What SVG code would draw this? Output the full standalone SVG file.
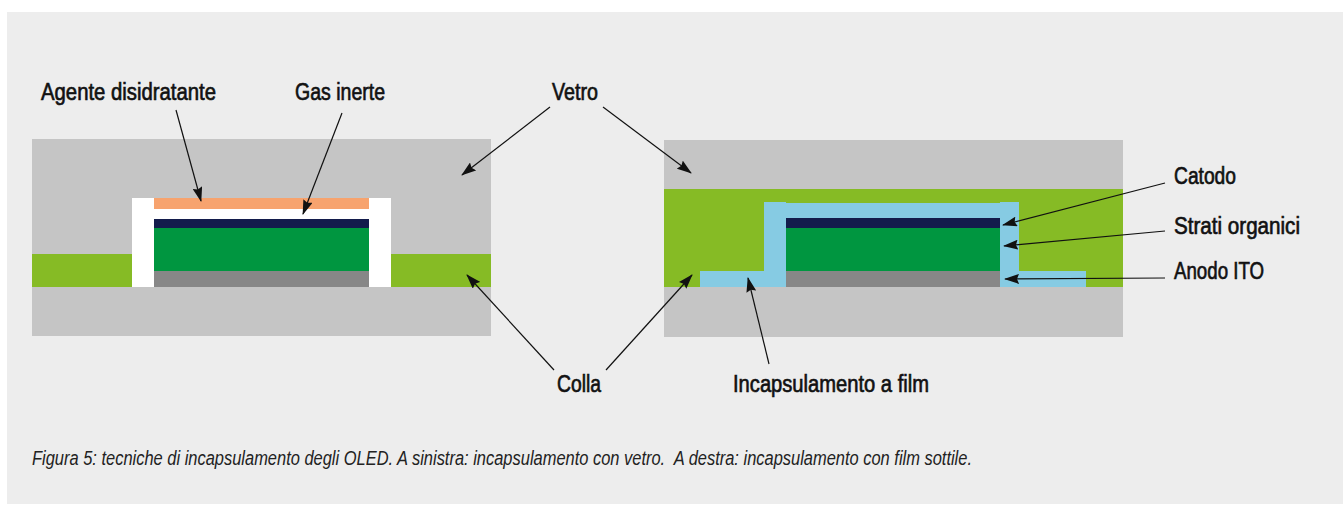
<svg xmlns="http://www.w3.org/2000/svg" width="1343" height="505" viewBox="0 0 1343 505">
<style>
.bg{fill:#ededed}.glass{fill:#c5c5c5}.glue{fill:#86bb25}.white{fill:#fff}.desi{fill:#f7a36e}.cath{fill:#131c4c}.org{fill:#009640}.ito{fill:#878787}.film{fill:#86cbe3}
.lab{font-family:"Liberation Sans",Arial,sans-serif;font-size:23px;fill:#111;stroke:#111;stroke-width:.65px}
.cap{font-family:"Liberation Sans",Arial,sans-serif;font-size:20px;font-style:italic;fill:#222;white-space:pre}
.con{stroke:#111;stroke-width:1.2;fill:none;marker-end:url(#arr)}
</style>
<defs><marker id="arr" markerUnits="userSpaceOnUse" viewBox="0 0 15 10" markerWidth="15" markerHeight="10" refX="14" refY="5" orient="auto"><path d="M0 0L15 5L0 10L2 5Z" fill="#111"/></marker></defs>
<rect class="bg" x="7" y="12" width="1336" height="492"/>
<g id="left-assembly">
<rect class="glass" x="32" y="139" width="459" height="197"/>
<rect class="glue" x="32" y="254" width="459" height="33"/>
<rect class="white" x="132" y="198" width="259" height="89"/>
<rect class="desi" x="154" y="198" width="215" height="11"/>
<rect class="cath" x="154" y="219" width="215" height="9"/>
<rect class="org" x="154" y="228" width="215" height="43"/>
<rect class="ito" x="154" y="271" width="215" height="16"/>
</g>
<g id="right-assembly">
<rect class="glass" x="664" y="140" width="459" height="197"/>
<rect class="glue" x="664" y="189" width="459" height="98"/>
<path class="film" d="M700 271H764V202H786V203H1000V202H1019V271H1086V287H700Z"/>
<rect class="cath" x="786" y="218" width="214" height="10"/>
<rect class="org" x="786" y="228" width="214" height="43"/>
<rect class="ito" x="786" y="271" width="214" height="16"/>
</g>
<g id="connectors">
<line class="con" x1="176" y1="110" x2="201" y2="201"/>
<line class="con" x1="342" y1="113" x2="303" y2="214"/>
<line class="con" x1="550" y1="107" x2="462" y2="175"/>
<line class="con" x1="603" y1="107" x2="691" y2="173"/>
<line class="con" x1="554" y1="370" x2="467" y2="275"/>
<line class="con" x1="606" y1="370" x2="692" y2="275"/>
<line class="con" x1="769" y1="364" x2="748" y2="278"/>
<line class="con" x1="1165" y1="183" x2="1003" y2="225"/>
<line class="con" x1="1165" y1="231" x2="1004" y2="246"/>
<line class="con" x1="1165" y1="278" x2="1005" y2="279"/>
</g>
<g id="label-agente"><text class="lab" x="41" y="100" textLength="175" lengthAdjust="spacingAndGlyphs">Agente disidratante</text></g>
<g id="label-gas"><text class="lab" x="295" y="100" textLength="90" lengthAdjust="spacingAndGlyphs">Gas inerte</text></g>
<g id="label-vetro"><text class="lab" x="552" y="100" textLength="46" lengthAdjust="spacingAndGlyphs">Vetro</text></g>
<g id="label-colla"><text class="lab" x="557" y="392" textLength="44" lengthAdjust="spacingAndGlyphs">Colla</text></g>
<g id="label-film"><text class="lab" x="733" y="392" textLength="196" lengthAdjust="spacingAndGlyphs">Incapsulamento a film</text></g>
<g id="label-catodo"><text class="lab" x="1174" y="184" textLength="62" lengthAdjust="spacingAndGlyphs">Catodo</text></g>
<g id="label-strati"><text class="lab" x="1174" y="234" textLength="126" lengthAdjust="spacingAndGlyphs">Strati organici</text></g>
<g id="label-anodo"><text class="lab" x="1174" y="279" textLength="90" lengthAdjust="spacingAndGlyphs">Anodo ITO</text></g>
<g id="caption"><text class="cap" x="32" y="465" textLength="940" lengthAdjust="spacingAndGlyphs">Figura 5: tecniche di incapsulamento degli OLED. A sinistra: incapsulamento con vetro.  A destra: incapsulamento con film sottile.</text></g>
</svg>
